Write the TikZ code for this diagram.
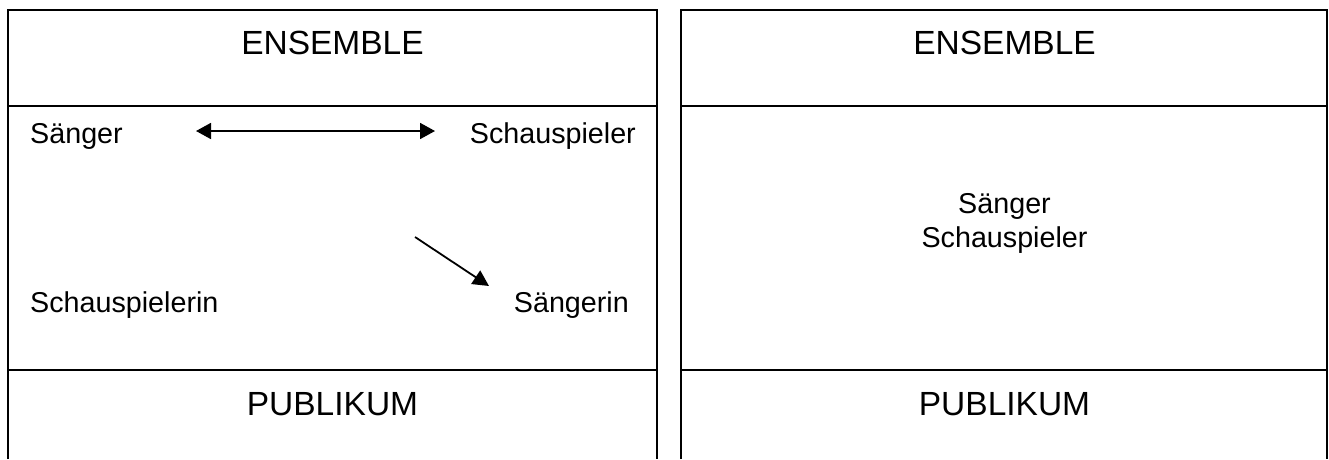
\documentclass[tikz,border=0pt]{standalone}
\usepackage{fontspec}
\setmainfont{Liberation Sans}
\usetikzlibrary{arrows.meta}

\begin{document}
\begin{tikzpicture}[x=1pt, y=-1pt,
  frame/.style={line width=2pt},
  heading/.style={font=\fontsize{33.5}{40}\selectfont, inner sep=0pt, anchor=base},
  role/.style={font=\fontsize{28.7}{34}\selectfont, inner sep=0pt},
  link/.style={line width=1.8pt, -{Triangle[length=16pt, width=16pt]}}]

\useasboundingbox (0, 0) rectangle (1329, 459);

% left stage
\draw[frame] (8, 459) -- (8, 10) -- (657, 10) -- (657, 459);
\draw[frame] (8, 106) -- (657, 106);
\draw[frame] (8, 370) -- (657, 370);

\node[heading] (ensembleL) at (332.5, 54) {ENSEMBLE};
\node[heading] (publikumL) at (332.5, 415) {PUBLIKUM};

\node[role, anchor=base west] (saengerL) at (30, 143) {Sänger};
\node[role, anchor=base east] (schauspielerL) at (636, 143) {Schauspieler};
\node[role, anchor=base west] (schauspielerin) at (30, 312) {Schauspielerin};
\node[role, anchor=base east] (saengerin) at (629, 312) {Sängerin};

\coordinate (pairA) at (196, 131);
\coordinate (pairB) at (435, 131);
\coordinate (moveA) at (415, 237);
\coordinate (moveB) at (489, 286);

\draw[link, {Triangle[length=15pt, width=16pt]}-{Triangle[length=15pt, width=16pt]}] (pairA) -- (pairB);
\draw[link] (moveA) -- (moveB);

% right stage
\draw[frame] (681, 459) -- (681, 10) -- (1327, 10) -- (1327, 459);
\draw[frame] (681, 106) -- (1327, 106);
\draw[frame] (681, 370) -- (1327, 370);

\node[heading] (ensembleR) at (1004.5, 54) {ENSEMBLE};
\node[heading] (publikumR) at (1004.5, 415) {PUBLIKUM};

\node[role, anchor=base] (saengerR) at (1004.5, 213) {Sänger};
\node[role, anchor=base] (schauspielerR) at (1004.5, 247) {Schauspieler};

\end{tikzpicture}
\end{document}
